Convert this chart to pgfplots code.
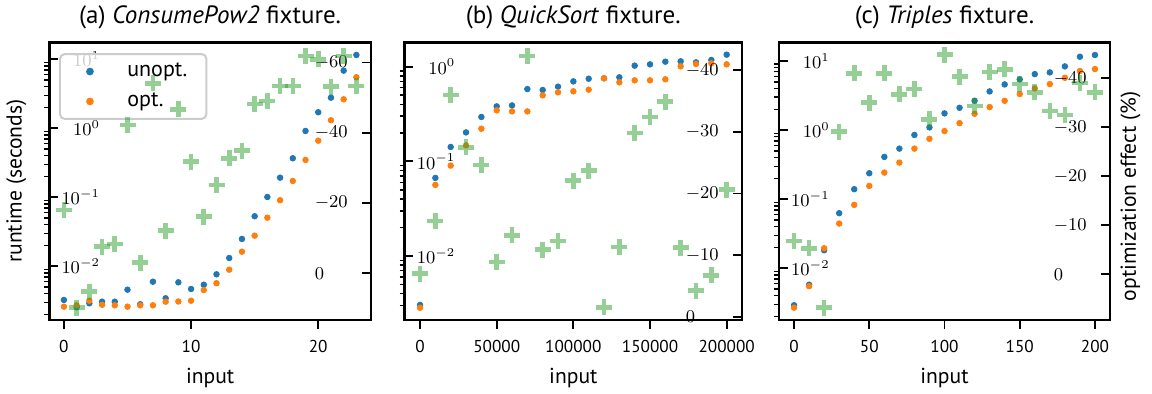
\documentclass[border=0pt]{standalone}
\usepackage[no-math]{fontspec}
\setmainfont{PT Sans}
\usepackage{pgfplots}
\usepackage{pgfplotstable}
\pgfplotsset{compat=1.18}
\definecolor{c1}{HTML}{1F77B4}
\definecolor{c2}{HTML}{FF7F0E}
\definecolor{c3}{HTML}{2CA02C}

\pgfplotstableread{
x u o e
0 0.00325 0.0026 -18.0
1 0.00255 0.00272 9.8
2 0.00291 0.00317 5.2
3 0.00307 0.00277 -7.6
4 0.00307 0.00272 -8.3
5 0.00458 0.0026 -42.2
6 0.00282 0.00272 -3.0
7 0.00598 0.00272 -54.1
8 0.00344 0.00307 -12.1
9 0.00586 0.00309 -46.7
10 0.00469 0.00317 -31.8
11 0.00541 0.00453 -16.1
12 0.00766 0.00568 -25.1
13 0.01318 0.00893 -32.7
14 0.02489 0.01629 -34.9
15 0.0531 0.0278 -48.2
16 0.1009 0.0506 -49.1
17 0.1923 0.0906 -53.3
18 0.3673 0.1722 -53.3
19 0.9141 0.3475 -61.8
20 1.706 0.6607 -60.9
21 2.773 1.306 -53.1
22 6.839 2.630 -61.8
23 11.53 5.483 -53.3
}\tabA

\pgfplotstableread{
x u o e
0 0.00304 0.00284 -7.0
10000 0.0668 0.0564 -15.5
20000 0.1419 0.0902 -36.0
30000 0.2023 0.1476 -27.5
40000 0.2944 0.2213 -24.6
50000 0.3811 0.3459 -8.9
60000 0.3899 0.3373 -13.2
70000 0.5808 0.3373 -42.3
80000 0.5675 0.4977 -10.9
90000 0.6152 0.5358 -12.3
100000 0.6998 0.5495 -22.1
110000 0.7464 0.5715 -23.7
120000 0.7534 0.7551 -1.5
130000 0.7727 0.6839 -11.3
140000 1.026 0.7178 -29.8
150000 1.059 0.7178 -32.4
160000 1.130 0.7362 -34.9
170000 1.140 1.009 -11.2
180000 1.112 1.069 -4.2
190000 1.178 1.086 -6.7
200000 1.340 1.059 -20.6
}\tabB

\pgfplotstableread{
x u o e
0 0.00292 0.00269 -6.8
10 0.00579 0.0055 -5.3
20 0.01824 0.0195 6.8
30 0.0627 0.0444 -29.1
40 0.1396 0.0828 -41.0
50 0.2377 0.1556 -35.0
60 0.4093 0.2427 -41.0
70 0.5395 0.3388 -36.7
80 0.8511 0.5395 -37.8
90 1.094 0.7482 -31.6
100 1.746 0.9683 -44.8
110 2.104 1.262 -40.3
120 2.661 1.722 -34.3
130 3.631 2.153 -41.3
140 4.581 2.655 -41.8
150 5.420 3.319 -38.8
160 6.457 4.009 -37.1
170 6.839 4.634 -33.3
180 8.356 5.715 -32.5
190 11.53 7.161 -39.0
200 12.22 7.656 -37.1
}\tabC

\pgfplotsset{
  legend image code/.code={\path[draw=none, fill=none] (0pt,-2pt) rectangle (24pt,2pt);
    \path[#1, fill opacity=1, mark repeat=2, mark phase=2] plot coordinates {(0pt,0pt)(12pt,0pt)(24pt,0pt)};},
  scale only axis,
  height=138.75pt,
  tick align=inside,
  tick label style={font=\fontsize{9}{10}\selectfont},
  label style={font=\fontsize{10.8}{13}\selectfont},
  title style={font=\fontsize{12.5}{15}\selectfont, anchor=base, at={(0.5,1)}, yshift=3.4pt},
  axis line style={line width=1.3pt},
  major tick length=4.3pt,
  minor tick length=2.6pt,
  every tick/.append style={black},
  every major tick/.append style={line width=0.9pt},
  every minor tick/.append style={line width=0.7pt, xshift=-2.6pt},
  every x tick/.append style={yshift=-4.3pt},
  xticklabel style={anchor=base, yshift=-16.3pt, font=\fontsize{8.6}{10}\selectfont},
  xlabel style={at={(axis description cs:0.5,0)}, anchor=base, yshift=-31.7pt},
}

\begin{document}
\begin{tikzpicture}
\path[use as bounding box] (0,0) rectangle (576pt,197pt);
% ---------- panel a
\begin{axis}[at={(24.65pt,37pt)}, anchor=south west, width=160.85pt,
  ymode=log, tick pos=left, scaled x ticks=false,
  yticklabel style={anchor=east, inner sep=0pt, xshift=25.5pt},
  xmin=-1.15, xmax=24.15, ymin=0.001667, ymax=17.5,
  xtick={0,10,20}, xticklabels={0,10,20},
  ytick={0.01,0.1,1,10},
  minor ytick={0.002,0.003,0.004,0.005,0.006,0.007,0.008,0.009,0.02,0.03,0.04,0.05,0.06,0.07,0.08,0.09,0.2,0.3,0.4,0.5,0.6,0.7,0.8,0.9,2,3,4,5,6,7,8,9},
  title={(a) \textit{ConsumePow2} fixture.},
  xlabel={input}, ylabel={runtime (seconds)},
  ylabel style={at={(axis description cs:-0.0857,0.5)}, anchor=base},
  legend cell align=left,
  legend style={at={(axis description cs:0.030,0.962)}, anchor=north west,
    draw=black!20, line width=1pt, rounded corners=2.5pt, fill=white,
    fill opacity=0.8, text opacity=1, font=\fontsize{11}{13}\selectfont,
    inner xsep=3pt, inner ysep=2.6pt, /tikz/column sep=4.7pt, /tikz/row sep=2.6pt},
]
\addplot[only marks, mark=*, mark size=1.4pt, color=c1] table[x=x,y=u]{\tabA}; \addlegendentry{unopt.\hspace*{4.5pt}}
\addplot[only marks, mark=*, mark size=1.4pt, color=c2] table[x=x,y=o]{\tabA}; \addlegendentry{opt.}
\end{axis}
\begin{axis}[at={(24.65pt,37pt)}, anchor=south west, width=160.85pt,
  axis y line*=right, axis x line=none, y dir=reverse,
  yticklabel style={anchor=west, inner sep=0pt, xshift=-28.3pt},
  xmin=-1.15, xmax=24.15, ymin=-65.7, ymax=13.3, ytick={-60,-40,-20,0}]
\addplot[only marks, mark=+, mark size=4pt, color=c3, mark options={line width=2.3pt, opacity=0.5}] table[x=x,y=e]{\tabA};
\end{axis}
% ---------- panel b
\begin{axis}[at={(202.35pt,37pt)}, anchor=south west, width=168.65pt,
  ymode=log, tick pos=left, scaled x ticks=false,
  yticklabel style={anchor=east, inner sep=0pt, xshift=25.5pt},
  xmin=-10000, xmax=210000, ymin=0.002109, ymax=1.803,
  xtick={0,50000,100000,150000,200000}, xticklabels={0,50000,100000,150000,200000},
  ytick={0.01,0.1,1},
  minor ytick={0.003,0.004,0.005,0.006,0.007,0.008,0.009,0.02,0.03,0.04,0.05,0.06,0.07,0.08,0.09,0.2,0.3,0.4,0.5,0.6,0.7,0.8,0.9},
  title={(b) \textit{QuickSort} fixture.},
  xlabel={input},
]
\addplot[only marks, mark=*, mark size=1.4pt, color=c1] table[x=x,y=u]{\tabB};
\addplot[only marks, mark=*, mark size=1.4pt, color=c2] table[x=x,y=o]{\tabB};
\end{axis}
\begin{axis}[at={(202.35pt,37pt)}, anchor=south west, width=168.65pt,
  axis y line*=right, axis x line=none, y dir=reverse,
  yticklabel style={anchor=west, inner sep=0pt, xshift=-28.3pt},
  xmin=-10000, xmax=210000, ymin=-44.5, ymax=0.54, ytick={-40,-30,-20,-10,0}]
\addplot[only marks, mark=+, mark size=4pt, color=c3, mark options={line width=2.3pt, opacity=0.5}] table[x=x,y=e]{\tabB};
\end{axis}
% ---------- panel c
\begin{axis}[at={(389.5pt,37pt)}, anchor=south west, width=165.5pt,
  ymode=log, tick pos=left, scaled x ticks=false,
  yticklabel style={anchor=east, inner sep=0pt, xshift=25.5pt},
  xmin=-10, xmax=210, ymin=0.001786, ymax=18.54,
  xtick={0,50,100,150,200}, xticklabels={0,50,100,150,200},
  ytick={0.01,0.1,1,10},
  minor ytick={0.002,0.003,0.004,0.005,0.006,0.007,0.008,0.009,0.02,0.03,0.04,0.05,0.06,0.07,0.08,0.09,0.2,0.3,0.4,0.5,0.6,0.7,0.8,0.9,2,3,4,5,6,7,8,9},
  title={(c) \textit{Triples} fixture.},
  xlabel={input}, ylabel={optimization effect (\%)},
  ylabel style={at={(axis description cs:1.078,0.445)}, anchor=base},
]
\addplot[only marks, mark=*, mark size=1.4pt, color=c1] table[x=x,y=u]{\tabC};
\addplot[only marks, mark=*, mark size=1.4pt, color=c2] table[x=x,y=o]{\tabC};
\end{axis}
\begin{axis}[at={(389.5pt,37pt)}, anchor=south west, width=165.5pt,
  axis y line*=right, axis x line=none, y dir=reverse,
  yticklabel style={anchor=west, inner sep=0pt, xshift=-28.3pt},
  xmin=-10, xmax=210, ymin=-47.3, ymax=9.33, ytick={-40,-30,-20,-10,0}]
\addplot[only marks, mark=+, mark size=4pt, color=c3, mark options={line width=2.3pt, opacity=0.5}] table[x=x,y=e]{\tabC};
\end{axis}
\end{tikzpicture}
\end{document}
